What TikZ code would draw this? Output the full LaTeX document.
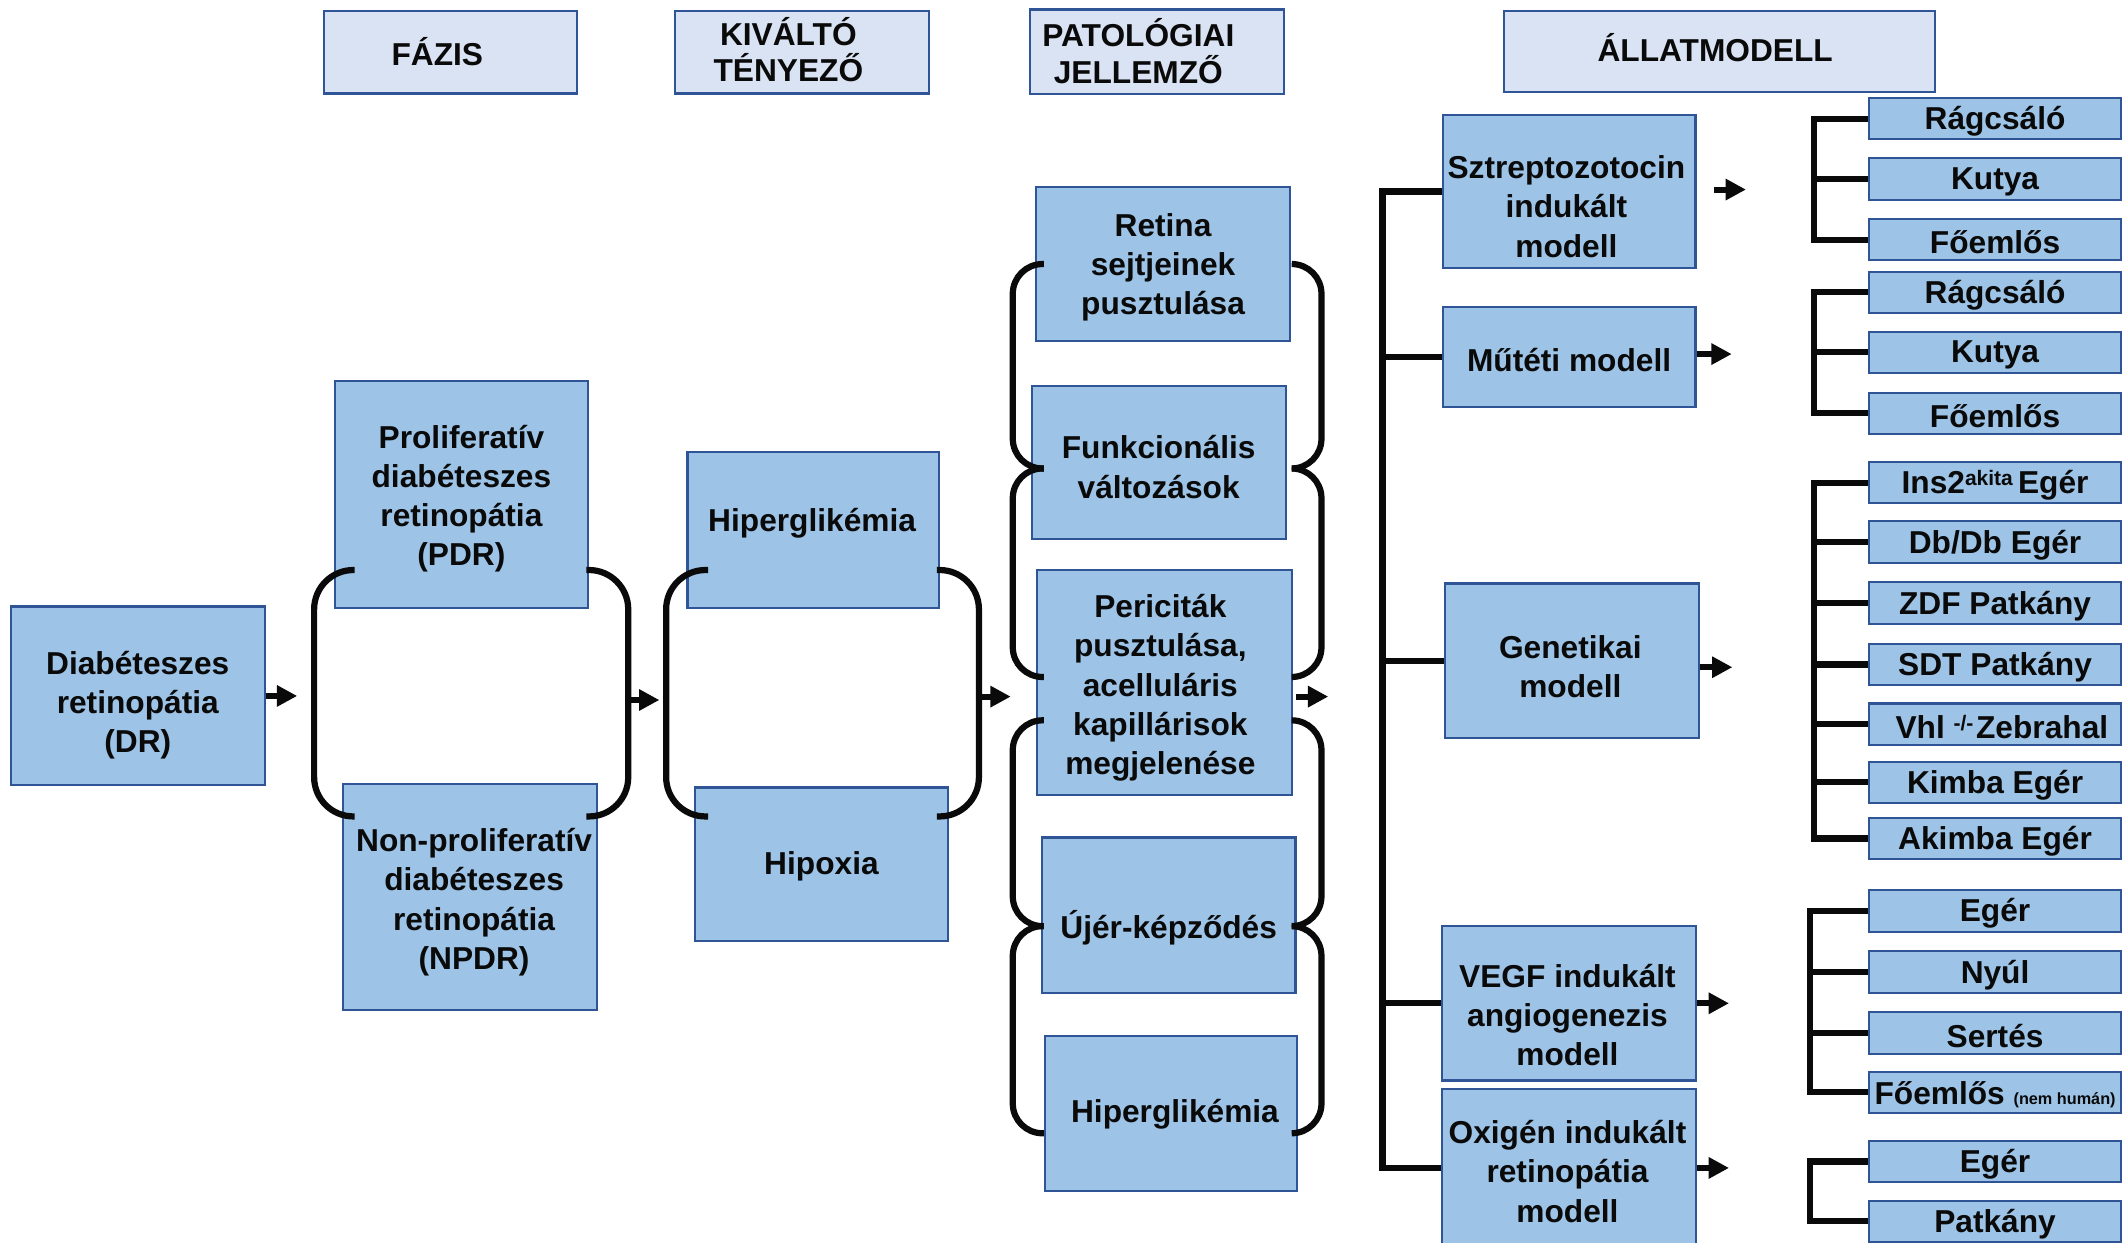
\documentclass[tikz,border=0pt]{standalone}
\usepackage{fontspec}
\setmainfont{Liberation Sans}
\usetikzlibrary{arrows.meta}

\definecolor{boxfill}{HTML}{9DC3E6}
\definecolor{headfill}{HTML}{DAE3F3}
\definecolor{boxline}{HTML}{2F5597}
\definecolor{ink}{HTML}{0A0A0A}

\tikzset{
  panel/.style={rectangle, draw=boxline, line width=1.6pt, fill=boxfill, inner sep=0pt},
  headpanel/.style={panel, fill=headfill},
  txt/.style={font=\bfseries\fontsize{23.4}{29}\selectfont, align=center, inner sep=0pt, text=ink, yshift=-2pt},
  headtxt/.style={font=\bfseries\fontsize{23.4}{27}\selectfont, align=center, inner sep=0pt, text=ink, yshift=1.5pt},
  brk/.style={draw=ink, line width=4.6pt},
  paren/.style={draw=ink, line width=4.6pt, rounded corners=#1},
  flow/.style={draw=ink, line width=4.4pt, -{Triangle[length=15pt,width=15pt]}},
}

% \panelbox{style}{name}{x1}{y1}{x2}{y2}{text offset}{text style}{text}
\newcommand{\panelbox}[9]{%
  \node[#1, minimum width={(#5)-(#3)}, minimum height={(#6)-(#4)}] (#2)
    at ({((#3)+(#5))/2},{((#4)+(#6))/2}) {};
  \path (#2.center) ++(#7) node[#8] {#9};}

\newcommand{\supr}[1]{\raisebox{6pt}{\fontsize{15.5}{15.5}\selectfont #1}}

\begin{document}
\begin{tikzpicture}[x=1pt,y=-1pt]
\useasboundingbox (0,0) rectangle (1568,918);
\clip (0,0) rectangle (1568,918);

% column headings
\panelbox{headpanel}{hfazis}{239}{8}{426}{69}{-9.5,1}{headtxt}{FÁZIS}
\panelbox{headpanel}{hkivalto}{498.5}{8}{686}{69}{-10,-0.5}{headtxt}{KIVÁLTÓ\\TÉNYEZŐ}
\panelbox{headpanel}{hpatol}{761}{7}{948.5}{69.5}{-14,1}{headtxt}{PATOLÓGIAI\\JELLEMZŐ}
\panelbox{headpanel}{hallat}{1110.5}{8}{1429}{68}{-3,-1}{headtxt}{ÁLLATMODELL}

% phase
\panelbox{panel}{dr}{8}{448}{195.5}{580}{0,4.7}{txt}{Diabéteszes\\retinopátia\\(DR)}
\panelbox{panel}{pdr}{247.3}{281.7}{434.3}{448.8}{0,1}{txt}{Proliferatív\\diabéteszes\\retinopátia\\(PDR)}
\panelbox{panel}{npdr}{253.4}{579}{440.9}{745.8}{3,2}{txt}{Non-proliferatív\\diabéteszes\\retinopátia\\(NPDR)}

% triggering factors
\panelbox{panel}{hyperA}{507.8}{333.9}{693.8}{448.8}{-1,-7}{txt}{Hiperglikémia}
\panelbox{panel}{hypox}{513}{581.6}{700.4}{694.7}{0,0}{txt}{Hipoxia}

% pathological features
\panelbox{panel}{retina}{765}{138.4}{953}{251.6}{0,0.5}{txt}{Retina\\sejtjeinek\\pusztulása}
\panelbox{panel}{funkc}{762}{285}{949.5}{398}{0,1.5}{txt}{Funkcionális\\változások}
\panelbox{panel}{peric}{766}{421}{954}{587}{-3,2}{txt}{Periciták\\pusztulása,\\acelluláris\\kapillárisok\\megjelenése}
\panelbox{panel}{ujer}{769.5}{618.6}{956.8}{733.6}{0,7}{txt}{Újér-képződés}
\panelbox{panel}{hyperB}{771.8}{765}{957.8}{879.4}{3,-1}{txt}{Hiperglikémia}

% animal models
\panelbox{panel}{strep}{1065.5}{85}{1252.3}{198}{-2,9}{txt}{Sztreptozotocin\\indukált\\modell}
\panelbox{panel}{mutet}{1065.5}{226.5}{1252.3}{300.8}{0,0}{txt}{Műtéti modell}
\panelbox{panel}{genet}{1067}{431}{1254.6}{545}{-1,2.5}{txt}{Genetikai\\modell}
\panelbox{panel}{vegf}{1065}{684}{1252.4}{798}{-1,6.5}{txt}{VEGF indukált\\angiogenezis\\modell}
\panelbox{panel}{oxig}{1065}{804.5}{1252.4}{921}{-1,0.5}{txt}{Oxigén indukált\\retinopátia\\modell}

% species
\panelbox{panel}{sa}{1380.5}{72.6}{1566.5}{102.7}{0,0}{txt}{Rágcsáló}
\panelbox{panel}{sb}{1380.5}{116.7}{1566.5}{147.9}{0,0}{txt}{Kutya}
\panelbox{panel}{sc}{1380.5}{162}{1566.5}{192}{0,0}{txt}{Főemlős}
\panelbox{panel}{ma}{1380.5}{200.7}{1566.5}{231}{0,0}{txt}{Rágcsáló}
\panelbox{panel}{mb}{1380.5}{245}{1566.5}{275.5}{0,0}{txt}{Kutya}
\panelbox{panel}{mc}{1380.5}{290}{1566.5}{320.5}{0,0}{txt}{Főemlős}
\panelbox{panel}{ga}{1380.5}{341.5}{1566.5}{371.8}{0,0}{txt}{Ins2\supr{akita}\,Egér}
\panelbox{panel}{gb}{1380.5}{385}{1566.5}{416}{0,0}{txt}{Db/Db Egér}
\panelbox{panel}{gc}{1380.5}{430}{1566.5}{461}{0,0}{txt}{ZDF Patkány}
\panelbox{panel}{gd}{1380.5}{475.6}{1566.5}{506}{0,0}{txt}{SDT Patkány}
\panelbox{panel}{ge}{1380.5}{519.6}{1566.5}{550}{5,0}{txt}{Vhl \supr{-/-}\hspace{2pt}Zebrahal}
\panelbox{panel}{gf}{1380.5}{562.5}{1566.5}{593}{0,0}{txt}{Kimba Egér}
\panelbox{panel}{gg}{1380.5}{604}{1566.5}{634.5}{0,0}{txt}{Akimba Egér}
\panelbox{panel}{va}{1380.5}{657.3}{1566.5}{688.4}{0,0}{txt}{Egér}
\panelbox{panel}{vb}{1380.5}{702.4}{1566.5}{733.6}{0,0}{txt}{Nyúl}
\panelbox{panel}{vc}{1380.5}{747.5}{1566.5}{778.4}{0,0}{txt}{Sertés}
\panelbox{panel}{vd}{1380.5}{791.5}{1566.5}{822}{0,0}{txt}{Főemlős {\fontsize{12}{12}\selectfont (nem humán)}}
\panelbox{panel}{oa}{1380.5}{842.7}{1566.5}{873}{0,0}{txt}{Egér}
\panelbox{panel}{ob}{1380.5}{887}{1566.5}{917}{0,0}{txt}{Patkány}

% curved grouping brackets
\draw[paren=29pt] (262,421) -- (232,421) -- (232,603) -- (262,603);
\draw[paren=29pt] (433,421) -- (464,421) -- (464,603) -- (433,603);
\draw[paren=29pt] (523,421) -- (492,421) -- (492,603) -- (523,603);
\draw[paren=29pt] (692,421) -- (723,421) -- (723,603) -- (692,603);

\foreach \ya/\yb in {195/346, 346/500, 532/684, 684/837}{
  \draw[paren=22pt] (771,\ya) -- (748,\ya) -- (748,\yb) -- (771,\yb);
  \draw[paren=22pt] (954,\ya) -- (976,\ya) -- (976,\yb) -- (954,\yb);
}

% flow arrows
\coordinate (fa) at (219.5,514);
\coordinate (fb0) at (464,517);
\coordinate (fb) at (487,517);
\coordinate (fc0) at (723,514.5);
\coordinate (fc) at (746.5,514.5);
\coordinate (fd0) at (957,514.5);
\coordinate (fd) at (981,514.5);
\draw[flow] (dr.east) -- (fa);
\draw[flow] (fb0) -- (fb);
\draw[flow] (fc0) -- (fc);
\draw[flow] (fd0) -- (fd);

\coordinate (sa0) at (1266,140);
\coordinate (sa1) at (1289.5,140);
\draw[flow] (sa0) -- (sa1);
\coordinate (mt) at (1279,261.5);
\draw[flow] (mutet.east |- mt) -- (mt);
\coordinate (gt) at (1279.5,492.8);
\draw[flow] (genet.east |- gt) -- (gt);
\coordinate (vt) at (1277,741);
\draw[flow] (vegf.east |- vt) -- (vt);
\coordinate (ot) at (1277,862.6);
\draw[flow] (oxig.east |- ot) -- (ot);

% model tree
\coordinate (kA) at (1021,141.5);
\draw[brk] (strep.west) -- (kA) |- (oxig.west);
\draw[brk] (mutet.west) -- (mutet.west -| kA);
\draw[brk] (genet.west) -- (genet.west -| kA);
\draw[brk] (vegf.west) -- (vegf.west -| kA);

% species trees
\coordinate (k1) at (1340,0);
\draw[brk] (sa.west) -- (sa.west -| k1) |- (sc.west);
\draw[brk] (sb.west) -- (sb.west -| k1);

\draw[brk] (ma.west) -- (ma.west -| k1) |- (mc.west);
\draw[brk] (mb.west) -- (mb.west -| k1);

\draw[brk] (ga.west) -- (ga.west -| k1) |- (gg.west);
\foreach \n in {gb,gc,gd,ge,gf}{
  \draw[brk] (\n.west) -- (\n.west -| k1);
}

\coordinate (k2) at (1337,0);
\draw[brk] (va.west) -- (va.west -| k2) |- (vd.west);
\draw[brk] (vb.west) -- (vb.west -| k2);
\draw[brk] (vc.west) -- (vc.west -| k2);

\draw[brk] (oa.west) -- (oa.west -| k2) |- (ob.west);
\end{tikzpicture}
\end{document}
